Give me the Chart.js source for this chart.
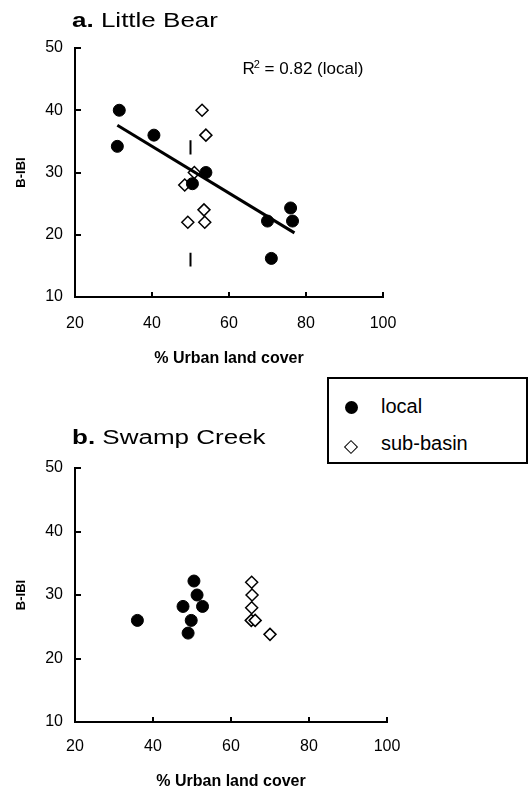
<!DOCTYPE html>
<html lang="en">
<head>
<meta charset="UTF-8">
<title>B-IBI vs % Urban land cover</title>
<script src="https://cdn.jsdelivr.net/npm/chart.js"></script>
<style>
    body {
        margin: 0;
        width: 531px;
        height: 793px;
        overflow: hidden;
        background: #fff;
        position: relative;
        font-family: 'Liberation Sans', Arial, sans-serif;
    }
    .panel {
        position: absolute;
        left: 0;
        width: 420px;
    }
    #panelA { top: 0; height: 380px; }
    #panelB { top: 380px; height: 413px; }
    #legend {
        position: absolute;
        left: 327px;
        top: 377px;
        width: 197px;
        height: 83px;
        border: 2px solid #000;
        background: #fff;
        color: #000;
    }
    .legend-text {
        position: absolute;
        left: 52px;
        height: 24px;
        line-height: 24px;
        font-size: 20px;
        white-space: nowrap;
    }
    .mark-dot {
        position: absolute;
        width: 13px;
        height: 13px;
        border-radius: 50%;
        background: #000;
    }
    .mark-diamond {
        position: absolute;
        box-sizing: border-box;
        width: 10px;
        height: 10px;
        border: 1.5px solid #000;
        background: #fff;
        transform: rotate(45deg);
    }
</style>
</head>
<body>
<div class="panel" id="panelA"><canvas id="chartA" width="420" height="380"></canvas></div>
<div class="panel" id="panelB"><canvas id="chartB" width="420" height="413"></canvas></div>
<div id="legend"></div>

<script>
    const FONT = "'Liberation Sans', Arial, sans-serif";

    const seriesNames = ['local', 'sub-basin'];
    const xTicks = [20, 40, 60, 80, 100];
    const yTicks = [10, 20, 30, 40, 50];
    const xTitle = '% Urban land cover';
    const yTitle = 'B-IBI';

    // a. Little Bear
    const bearLocalX = [31.5, 31, 40.5, 54, 50.5, 70, 76, 76.5, 71];
    const bearLocalY = [40, 34.2, 36, 30, 28.2, 22.2, 24.3, 22.2, 16.2];
    const bearSubX = [53, 54, 51, 48.5, 53.5, 49.3, 53.7];
    const bearSubY = [40, 36, 30, 28, 24, 22, 22];
    const bearFitX = [31, 77];
    const bearFitY = [37.6, 20.3];
    const bearMarkX = [50, 50, 50, 50, 50];
    const bearMarkY = [35.2, 32.9, null, 17.1, 14.9];
    const bearNote = 'R² = 0.82 (local)';

    // b. Swamp Creek
    const swampLocalX = [36, 50.5, 51.3, 47.7, 52.7, 49.8, 49];
    const swampLocalY = [26, 32.2, 30, 28.2, 28.2, 26, 24];
    const swampSubX = [65.3, 65.4, 65.3, 65.2, 66.2, 70];
    const swampSubY = [32, 30, 28, 26, 26, 23.8];

    Chart.defaults.font.family = FONT;
    Chart.defaults.color = '#000';

    function pts(xs, ys) {
        return xs.map((x, i) => ({ x: x, y: ys[i] }));
    }

    // inward tick marks, panel title and the R² note
    const panelDecor = {
        id: 'panelDecor',
        afterDraw(chart, args, opts) {
            const ctx = chart.ctx;
            const { x, y } = chart.scales;
            ctx.save();
            ctx.strokeStyle = '#000';
            ctx.lineWidth = 2;
            ctx.beginPath();
            x.ticks.forEach(t => {
                const px = Math.round(x.getPixelForValue(t.value));
                ctx.moveTo(px, y.bottom);
                ctx.lineTo(px, y.bottom - 5);
            });
            y.ticks.forEach(t => {
                const py = Math.round(y.getPixelForValue(t.value));
                ctx.moveTo(x.left, py);
                ctx.lineTo(x.left + 6, py);
            });
            ctx.stroke();

            // title, "a." bold then name
            ctx.fillStyle = '#000';
            ctx.textBaseline = 'alphabetic';
            ctx.save();
            ctx.translate(opts.titleX, opts.titleY);
            ctx.scale(1.3, 1);
            ctx.font = 'bold 20px ' + FONT;
            ctx.fillText(opts.letter, 0, 0);
            const w = ctx.measureText(opts.letter + ' ').width;
            ctx.font = '20px ' + FONT;
            ctx.fillText(opts.name, w, 0);
            ctx.restore();

            if (opts.note) {
                const nx = x.getPixelForValue(opts.noteAt[0]);
                const ny = y.getPixelForValue(opts.noteAt[1]);
                const head = opts.note.slice(0, 1);
                const sup = '2';
                const rest = opts.note.slice(2);
                ctx.font = '17px ' + FONT;
                ctx.fillText(head, nx, ny);
                let cx = nx + ctx.measureText(head).width;
                ctx.font = '11px ' + FONT;
                ctx.fillText(sup, cx - 1, ny - 6);
                cx += ctx.measureText(sup).width - 1;
                ctx.font = '17px ' + FONT;
                ctx.fillText(rest, cx, ny);
            }
            ctx.restore();
        }
    };

    function makePanel(canvasId, d) {
        const datasets = [];
        if (d.fitX) {
            datasets.push({
                type: 'line',
                label: 'fit',
                data: pts(d.fitX, d.fitY),
                borderColor: '#000',
                borderWidth: 3,
                pointRadius: 0,
                fill: false,
                order: 0
            });
        }
        if (d.markX) {
            datasets.push({
                type: 'line',
                label: 'mark',
                data: pts(d.markX, d.markY),
                borderColor: '#000',
                borderWidth: 2,
                pointRadius: 0,
                spanGaps: false,
                fill: false,
                order: 3
            });
        }
        datasets.push({
            label: seriesNames[0],
            data: pts(d.localX, d.localY),
            pointStyle: 'circle',
            pointRadius: 6,
            backgroundColor: '#000',
            borderColor: '#000',
            borderWidth: 1,
            order: 1
        });
        datasets.push({
            label: seriesNames[1],
            data: pts(d.subX, d.subY),
            pointStyle: 'rectRot',
            pointRadius: 6,
            backgroundColor: '#fff',
            borderColor: '#000',
            borderWidth: 1.5,
            order: 2
        });

        return new Chart(document.getElementById(canvasId), {
            type: 'scatter',
            data: { datasets: datasets },
            options: {
                responsive: false,
                animation: false,
                events: [],
                layout: { padding: { top: d.padTop, right: d.padRight, left: 0, bottom: 0 } },
                plugins: {
                    legend: { display: false },
                    tooltip: { enabled: false },
                    panelDecor: d.decor
                },
                scales: {
                    x: {
                        type: 'linear',
                        min: xTicks[0],
                        max: xTicks[xTicks.length - 1],
                        afterBuildTicks: s => { s.ticks = xTicks.map(v => ({ value: v })); },
                        afterFit: s => { s.height = d.xHeight; },
                        grid: { display: true, drawOnChartArea: false, drawTicks: false },
                        border: { display: true, color: '#000', width: 2 },
                        ticks: { padding: d.xTickPad, font: { size: 16 }, color: '#000', maxRotation: 0, autoSkip: false },
                        title: {
                            display: true,
                            text: xTitle,
                            color: '#000',
                            font: { size: 16, weight: 'bold' },
                            padding: { top: 0, bottom: d.xTitlePad }
                        }
                    },
                    y: {
                        type: 'linear',
                        min: yTicks[0],
                        max: yTicks[yTicks.length - 1],
                        afterBuildTicks: s => { s.ticks = yTicks.map(v => ({ value: v })); },
                        afterFit: s => { s.width = 75; },
                        grid: { display: true, drawOnChartArea: false, drawTicks: false },
                        border: { display: true, color: '#000', width: 2 },
                        ticks: { padding: 12, font: { size: 16 }, color: '#000' },
                        title: {
                            display: true,
                            text: yTitle,
                            color: '#000',
                            font: { size: 13, weight: 'bold' },
                            padding: { top: 14, bottom: 0 }
                        }
                    }
                }
            },
            plugins: [panelDecor]
        });
    }

    makePanel('chartA', {
        localX: bearLocalX, localY: bearLocalY,
        subX: bearSubX, subY: bearSubY,
        fitX: bearFitX, fitY: bearFitY,
        markX: bearMarkX, markY: bearMarkY,
        padTop: 48, padRight: 37, xHeight: 83, xTickPad: 17, xTitlePad: 12,
        decor: { letter: 'a.', name: 'Little Bear', titleX: 72, titleY: 27, note: bearNote, noteAt: [63.5, 45.8] }
    });

    makePanel('chartB', {
        localX: swampLocalX, localY: swampLocalY,
        subX: swampSubX, subY: swampSubY,
        padTop: 88, padRight: 33, xHeight: 71, xTickPad: 15, xTitlePad: 2,
        decor: { letter: 'b.', name: 'Swamp Creek', titleX: 72, titleY: 64 }
    });

    // legend box
    const legend = document.getElementById('legend');
    const markClass = ['mark-dot', 'mark-diamond'];
    const markPos = [[16, 22], [17, 62.7]];
    const textTop = [14.5, 52];
    seriesNames.forEach((name, i) => {
        const m = document.createElement('span');
        m.className = markClass[i];
        m.style.left = markPos[i][0] + 'px';
        m.style.top = markPos[i][1] + 'px';
        legend.appendChild(m);
        const t = document.createElement('span');
        t.className = 'legend-text';
        t.style.top = textTop[i] + 'px';
        t.textContent = name;
        legend.appendChild(t);
    });
</script>
</body>
</html>
